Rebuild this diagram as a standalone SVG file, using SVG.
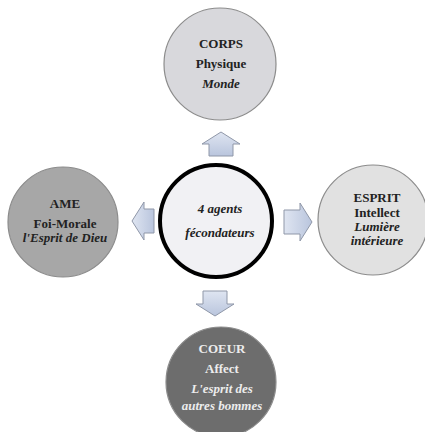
<svg xmlns="http://www.w3.org/2000/svg" width="425" height="432" viewBox="0 0 425 432">
<defs>
<linearGradient id="ag" x1="0" y1="0" x2="0" y2="1">
<stop offset="0" stop-color="#dfe5f1"/>
<stop offset="1" stop-color="#b9c5dd"/>
</linearGradient>
<linearGradient id="agh" x1="0" y1="0" x2="1" y2="0">
<stop offset="0" stop-color="#dfe5f1"/>
<stop offset="1" stop-color="#b9c5dd"/>
</linearGradient>
</defs>
<style>
text{font-family:"Liberation Serif","DejaVu Serif",serif;font-weight:bold;font-size:13px;text-anchor:middle;fill:#222}
.i{font-style:italic}
.w{fill:#ececec}
.c{stroke:#8c8c8c;stroke-width:1.2}
.arr{stroke:#8f97a8;stroke-width:1}
</style>
<rect width="425" height="432" fill="#ffffff"/>
<g id="connectors">
<polygon class="arr" fill="url(#ag)" points="221,132 240,144 233,144 233,156 209,156 209,144 202,144"/>
<polygon class="arr" fill="url(#ag)" points="215,316 234,304 227,304 227,291 203,291 203,304 196,304"/>
<polygon class="arr" fill="url(#agh)" points="132,221 144,202 144,209 154,209 154,233 144,233 144,240"/>
<polygon class="arr" fill="url(#agh)" points="312,222 300,203 300,210 284,210 284,234 300,234 300,241"/>
</g>
<g id="corps">
<circle class="c" cx="220" cy="64" r="56" fill="#d8d8dc"/>
<text x="221" y="48">CORPS</text>
<text x="221" y="68">Physique</text>
<text x="221" y="88" class="i">Monde</text>
</g>
<g id="ame">
<circle class="c" cx="63" cy="222" r="55" fill="#a7a7a7"/>
<text x="65" y="208">AME</text>
<text x="65" y="228">Foi-Morale</text>
<text x="65" y="242" class="i" font-size="12">l'Esprit de Dieu</text>
</g>
<g id="esprit">
<circle class="c" cx="373" cy="220" r="55" fill="#e1e1e1"/>
<text x="377" y="202">ESPRIT</text>
<text x="377" y="217">Intellect</text>
<text x="377" y="231" class="i">Lumière</text>
<text x="377" y="245" class="i">intérieure</text>
</g>
<g id="coeur">
<circle class="c" cx="221" cy="382" r="55" fill="#6d6d6d"/>
<text x="222" y="353" class="w">COEUR</text>
<text x="222" y="373" class="w">Affect</text>
<text x="222" y="393" class="i w" font-weight="normal">L'esprit des</text>
<text x="222" y="410" class="i w" font-weight="normal">autres  bommes</text>
</g>
<g id="center">
<circle cx="216" cy="221" r="56" fill="#f1f1f4" stroke="#000" stroke-width="4"/>
<text x="220" y="213" class="i" font-size="15">4 agents</text>
<text x="220" y="237" class="i" font-size="15">fécondateurs</text>
</g>
</svg>
